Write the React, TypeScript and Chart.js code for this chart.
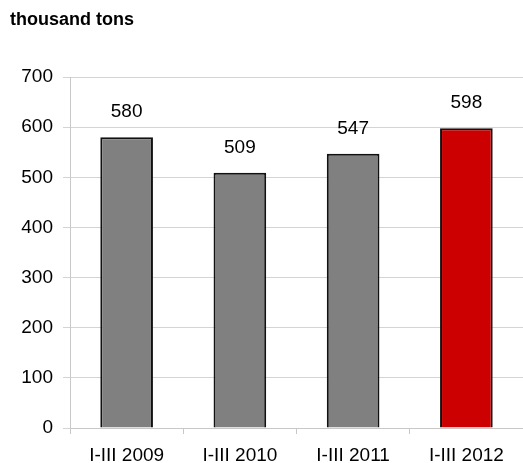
import React, { useEffect, useRef } from "react";
import { Chart, registerables } from "chart.js";

Chart.register(...registerables);

const categories = ["I-III 2009", "I-III 2010", "I-III 2011", "I-III 2012"];
const values = [580, 509, 547, 598];
const barColors = ["#808080", "#808080", "#808080", "#cc0000"];
const yTicks = [0, 100, 200, 300, 400, 500, 600, 700];
const unitLabel = "thousand tons";

const FONT = "'Liberation Sans', Arial, sans-serif";

const overlayPlugin = {
  id: "overlay",
  afterDatasetsDraw(chart: any) {
    const ctx = chart.ctx;
    ctx.save();
    // title
    ctx.fillStyle = "#000";
    ctx.font = `bold 18px ${FONT}`;
    ctx.textAlign = "left";
    ctx.textBaseline = "middle";
    ctx.fillText(unitLabel, 10, 20);
    // data labels
    const meta = chart.getDatasetMeta(0);
    ctx.font = `19px ${FONT}`;
    ctx.textAlign = "center";
    meta.data.forEach((bar: any, i: number) => {
      ctx.fillText(String(values[i]), bar.x, bar.y - 25);
    });
    ctx.restore();
  },
};

export default function App() {
  const ref = useRef<HTMLCanvasElement>(null);
  useEffect(() => {
    if (!ref.current) return;
    const chart = new Chart(ref.current, {
      type: "bar",
      data: {
        labels: categories,
        datasets: [
          {
            data: values,
            backgroundColor: barColors,
            borderColor: "#111",
            borderWidth: 2,
            categoryPercentage: 1,
            barPercentage: 0.465,
          },
        ],
      },
      options: {
        responsive: false,
        animation: false,
        layout: { padding: { top: 77, left: 0, right: 0, bottom: 0 } },
        plugins: { legend: { display: false }, tooltip: { enabled: false }, title: { display: false } },
        scales: {
          x: {
            afterFit: (s: any) => {
              s.height = 35;
            },
            grid: { offset: true, drawOnChartArea: false, tickLength: 6, color: "#c8c8c8" },
            border: { color: "#c8c8c8" },
            ticks: { color: "#000", font: { family: FONT, size: 19 }, padding: 10 },
          },
          y: {
            min: 0,
            max: 700,
            afterFit: (s: any) => {
              s.width = 70;
            },
            afterBuildTicks: (s: any) => {
              s.ticks = yTicks.map((v) => ({ value: v }));
            },
            grid: { color: "#d4d4d4", tickLength: 7 },
            border: { color: "#c8c8c8" },
            ticks: { color: "#000", font: { family: FONT, size: 19 }, padding: 10, stepSize: 100 },
          },
        },
      },
      plugins: [overlayPlugin],
    });
    return () => chart.destroy();
  }, []);
  return (
    <div style={{ position: "fixed", left: 0, top: 0, width: 523, height: 463, background: "#fff" }}>
      <canvas ref={ref} width={523} height={463} />
    </div>
  );
}
